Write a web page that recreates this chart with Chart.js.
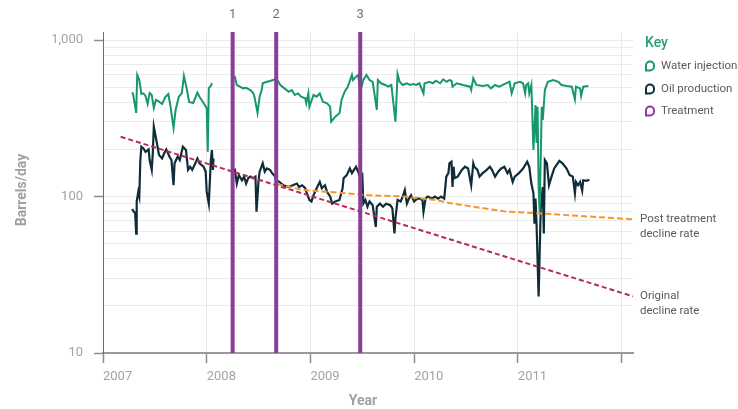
<!DOCTYPE html>
<html>
<head>
<meta charset="utf-8">
<script src="https://cdn.jsdelivr.net/npm/chart.js@4.4.0/dist/chart.umd.min.js"></script>
<style>
  html, body { margin: 0; padding: 0; background: #fff; }
  canvas { display: block; }
</style>
</head>
<body>
<canvas id="myChart" width="738" height="409"></canvas>
<script>
// Water injection (barrels/day)
const waterYears = [2007.28,2007.29,2007.32,2007.33,2007.35,2007.37,2007.39,2007.41,2007.43,2007.45,
  2007.47,2007.49,2007.51,2007.53,2007.57,2007.60,2007.63,2007.65,2007.68,2007.70,
  2007.73,2007.76,2007.78,2007.81,2007.83,2007.87,2007.91,2007.93,2007.97,2008.00,
  2008.01,2008.02,2008.04,2008.05,2008.15,
  2008.27,2008.29,2008.32,2008.35,2008.38,2008.42,2008.45,2008.46,2008.49,2008.51,
  2008.53,2008.54,2008.58,2008.61,2008.64,2008.67,2008.71,2008.75,2008.79,2008.82,
  2008.85,2008.88,2008.91,2008.95,2008.96,2008.98,2008.99,2009.03,2009.06,2009.09,
  2009.12,2009.16,2009.19,2009.20,2009.24,2009.28,2009.30,2009.33,2009.36,2009.40,
  2009.41,2009.44,2009.46,2009.48,2009.51,2009.54,2009.57,2009.60,2009.64,2009.65,
  2009.68,2009.72,2009.75,2009.78,2009.82,2009.84,2009.86,2009.89,2009.93,2009.96,
  2009.99,2010.02,2010.05,2010.09,2010.10,2010.15,2010.18,2010.21,2010.25,2010.28,
  2010.31,2010.34,2010.36,2010.37,2010.41,2010.47,2010.54,2010.55,2010.57,2010.60,
  2010.66,2010.71,2010.74,2010.78,2010.82,2010.87,2010.92,2010.94,2010.97,2011.02,
  2011.05,2011.07,2011.08,2011.10,2011.11,2011.13,2011.15,2011.17,2011.18,2011.19,
  2011.20,2011.21,2011.23,2011.24,2011.26,2011.29,2011.34,2011.39,2011.42,2011.47,
  2011.52,2011.55,2011.56,2011.60,2011.61,2011.63,2011.68];
const waterValues = [463,452,342,598,555,452,456,439,390,458,
  445,368,414,408,390,432,452,379,274,357,
  432,458,589,479,402,396,461,434,396,366,
  193,493,508,531,null,
  589,516,503,491,495,479,456,434,343,434,
  479,529,541,547,555,569,516,491,467,479,
  445,456,434,424,394,456,375,445,434,456,
  403,394,375,301,324,340,414,467,503,598,
  555,583,598,467,555,598,555,541,357,555,
  529,516,503,516,301,606,541,516,529,516,
  523,516,529,456,529,541,529,549,529,561,
  541,555,549,503,529,516,503,479,569,516,
  508,516,491,516,503,523,541,456,529,541,
  529,456,516,529,456,516,198,384,220,375,
  115,80,375,308,479,541,555,541,516,508,
  503,418,503,491,439,503,508];

// Oil production (barrels/day)
const oilYears = [2007.28,2007.31,2007.32,2007.325,2007.34,2007.35,2007.36,2007.37,2007.39,2007.41,
  2007.44,2007.45,2007.47,2007.48,2007.49,2007.52,2007.54,2007.57,2007.59,2007.61,
  2007.64,2007.66,2007.68,2007.69,2007.72,2007.74,2007.77,2007.80,2007.82,2007.84,
  2007.86,2007.89,2007.91,2007.93,2007.97,2007.99,2008.00,2008.02,2008.04,2008.05,
  2008.06,2008.065,2008.15,
  2008.27,2008.29,2008.31,2008.34,2008.36,2008.38,2008.40,2008.42,2008.45,2008.47,
  2008.48,2008.50,2008.51,2008.54,2008.56,2008.58,2008.61,2008.63,2008.66,2008.67,
  2008.70,2008.74,2008.79,2008.83,2008.87,2008.89,2008.92,2008.95,2008.96,2008.99,
  2009.01,2009.03,2009.06,2009.09,2009.11,2009.14,2009.16,2009.19,2009.21,2009.24,
  2009.28,2009.31,2009.32,2009.35,2009.38,2009.40,2009.42,2009.44,2009.46,2009.48,
  2009.50,2009.51,2009.53,2009.55,2009.57,2009.60,2009.63,2009.64,2009.67,2009.70,
  2009.73,2009.77,2009.79,2009.81,2009.82,2009.84,2009.87,2009.89,2009.91,2009.93,
  2009.95,2009.97,2010.00,2010.03,2010.05,2010.08,2010.09,2010.11,2010.13,2010.17,
  2010.20,2010.23,2010.26,2010.29,2010.31,2010.33,2010.34,2010.36,2010.37,2010.38,
  2010.39,2010.42,2010.46,2010.49,2010.52,2010.55,2010.57,2010.58,2010.61,2010.63,
  2010.66,2010.70,2010.73,2010.75,2010.78,2010.81,2010.84,2010.87,2010.90,2010.92,
  2010.95,2010.97,2011.01,2011.05,2011.09,2011.11,2011.13,2011.15,2011.16,2011.17,
  2011.18,2011.20,2011.22,2011.24,2011.25,2011.26,2011.28,2011.30,2011.32,2011.35,
  2011.40,2011.43,2011.47,2011.50,2011.53,2011.55,2011.56,2011.58,2011.60,2011.62,
  2011.63,2011.66,2011.69];
const oilValues = [83,78,58,93,107,100,171,208,203,193,
  200,171,148,189,279,219,184,175,189,200,
  180,171,118,163,180,171,208,198,148,155,
  148,163,175,163,155,144,107,90,171,198,
  148,175,null,
  151,121,137,127,134,121,131,134,131,134,
  80,127,144,163,144,151,148,141,134,127,
  124,118,115,118,121,115,118,113,107,95,
  93,102,113,124,113,118,107,100,90,93,
  95,113,131,137,151,141,148,155,144,131,
  137,90,95,86,93,88,64,86,90,86,
  90,88,84,58,73,95,93,100,110,90,
  97,102,93,97,97,95,80,97,100,97,
  100,97,100,97,134,141,163,167,115,155,
  131,134,148,155,151,118,163,155,148,134,
  141,148,155,148,134,144,151,155,141,148,
  124,134,141,151,167,155,121,105,67,97,
  67,23,82,115,58,171,163,118,131,151,
  169,163,151,137,134,105,124,118,124,109,
  127,126,128];

// Treatments
const treatmentYears = [2008.25, 2008.67, 2009.48];
const treatmentLabels = ['1', '2', '3'];

// Decline rate trends
const originalYears = [2007.17, 2012.11];
const originalValues = [241, 23];
const postYears = [2008.68, 2008.93, 2009.25, 2009.57, 2009.89, 2010.21, 2010.34, 2010.57, 2010.89, 2011.21, 2012.11];
const postValues = [120, 110, 106, 102, 100, 95, 91, 86, 80, 78, 71.5];

// Axes
const xTicks = [2007, 2008, 2009, 2010, 2011, 2012];
const xMin = 2007, xMax = 2012.11;
const yMin = 10, yMax = 1125;
const yLabelled = [10, 100, 1000];

const legendItems = ['Water injection', 'Oil production', 'Treatment'];

const GREEN = '#16986b';
const OIL = '#0e2d38';
const PURPLE = '#8a3e98';
const CRIMSON = '#b82a5e';
const ORANGE = '#f5962b';
const TICK_GREY = '#a3a3a3';
const TEXT_GREY = '#5a5a5a';

function toPoints(xs, ys) {
    return xs.map((x, i) => ({ x: x, y: ys[i] }));
}

function treatmentPoints() {
    const pts = [];
    treatmentYears.forEach(yr => {
        pts.push({ x: yr, y: yMin }, { x: yr, y: yMax }, { x: yr, y: null });
    });
    return pts;
}

// 1..9 x 10^n gets a grid line, anything else (like the top bound) does not
function isLogStep(v) {
    const p = Math.pow(10, Math.floor(Math.log10(v) + 1e-9));
    const m = v / p;
    return Math.abs(m - Math.round(m)) < 1e-6;
}

// labels, key and axis titles drawn on top
const overlayPlugin = {
    id: 'overlay',
    afterDraw(chart) {
        const { ctx, chartArea, scales } = chart;
        ctx.save();
        ctx.textBaseline = 'middle';

        // treatment numbers above the lines
        ctx.font = '13px Roboto';
        ctx.fillStyle = '#707070';
        ctx.textAlign = 'center';
        treatmentYears.forEach((yr, i) => {
            ctx.fillText(treatmentLabels[i], scales.x.getPixelForValue(yr), 15);
        });

        // axis titles
        ctx.font = 'bold 14px Roboto';
        ctx.fillStyle = '#a0a0a0';
        ctx.fillText('Year', 363, 401);
        ctx.save();
        ctx.translate(22, 190);
        ctx.rotate(-Math.PI / 2);
        ctx.fillText('Barrels/day', 0, 0);
        ctx.restore();

        // key
        const lx = chartArea.right + 12;
        ctx.textAlign = 'left';
        ctx.font = '500 14px Roboto';
        ctx.fillStyle = '#2a9b72';
        ctx.fillText('Key', lx, 43);
        const colors = [GREEN, OIL, PURPLE];
        const rows = [66, 89, 111];
        ctx.font = '11.5px Roboto';
        legendItems.forEach((label, i) => {
            ctx.beginPath();
            ctx.lineWidth = 2;
            ctx.strokeStyle = colors[i];
            ctx.roundRect(lx + 1, rows[i] - 4.5, 8, 9, [4, 4, 4, 0]);
            ctx.stroke();
            ctx.fillStyle = TEXT_GREY;
            ctx.fillText(label, lx + 16, rows[i]);
        });

        // trend line notes at the right end
        const ax = chartArea.right + 7;
        ctx.font = '11.5px Roboto';
        ctx.fillStyle = TEXT_GREY;
        const yPost = scales.y.getPixelForValue(postValues[postValues.length - 1]);
        ctx.fillText('Post treatment', ax, yPost);
        ctx.fillText('decline rate', ax, yPost + 15);
        const yOrig = scales.y.getPixelForValue(originalValues[originalValues.length - 1]);
        ctx.fillText('Original', ax, yOrig);
        ctx.fillText('decline rate', ax, yOrig + 15);
        ctx.restore();
    }
};

const ctx = document.getElementById('myChart').getContext('2d');
const myChart = new Chart(ctx, {
    type: 'line',
    data: {
        datasets: [
            {
                label: 'Treatment',
                data: treatmentPoints(),
                borderColor: PURPLE,
                borderWidth: 4,
                pointRadius: 0,
                spanGaps: false,
                order: 0
            },
            {
                label: 'Original decline rate',
                data: toPoints(originalYears, originalValues),
                borderColor: CRIMSON,
                borderWidth: 2,
                borderDash: [5, 3],
                pointRadius: 0,
                order: 1
            },
            {
                label: 'Post treatment decline rate',
                data: toPoints(postYears, postValues),
                borderColor: ORANGE,
                borderWidth: 2,
                borderDash: [6, 3],
                pointRadius: 0,
                order: 2
            },
            {
                label: 'Water injection',
                data: toPoints(waterYears, waterValues),
                borderColor: GREEN,
                borderWidth: 2,
                pointRadius: 0,
                spanGaps: false,
                order: 3
            },
            {
                label: 'Oil production',
                data: toPoints(oilYears, oilValues),
                borderColor: OIL,
                borderWidth: 2.2,
                pointRadius: 0,
                spanGaps: false,
                order: 4
            }
        ]
    },
    options: {
        responsive: false,
        animation: false,
        devicePixelRatio: 1,
        layout: { padding: { left: 0, right: 105, top: 32, bottom: 0 } },
        plugins: {
            legend: { display: false },
            tooltip: { enabled: false }
        },
        scales: {
            x: {
                type: 'linear',
                min: xMin,
                max: xMax,
                afterFit: scale => { scale.height = 56; },
                afterBuildTicks: scale => { scale.ticks = xTicks.map(v => ({ value: v })); },
                ticks: {
                    align: 'start',
                    padding: 6,
                    color: TICK_GREY,
                    font: { family: 'Roboto', size: 13 },
                    maxRotation: 0,
                    autoSkip: false,
                    callback: v => (v === 2012 ? '' : String(v))
                },
                grid: {
                    color: '#e8e8e8',
                    lineWidth: 1,
                    tickLength: 10,
                    tickColor: '#8c8c8c',
                    tickWidth: 1.5
                },
                border: { color: '#9a9a9a', width: 2 }
            },
            y: {
                type: 'logarithmic',
                min: yMin,
                max: yMax,
                afterFit: scale => { scale.width = 103; },
                ticks: {
                    autoSkip: false,
                    padding: 11,
                    color: TICK_GREY,
                    font: { family: 'Roboto', size: 13 },
                    callback: v => (yLabelled.includes(v) ? v.toLocaleString('en-US') : '')
                },
                grid: {
                    color: c => (isLogStep(c.tick.value) && c.tick.value !== yMin ? '#ebebeb' : 'rgba(0,0,0,0)'),
                    lineWidth: 1,
                    tickLength: 9,
                    tickColor: c => (yLabelled.includes(c.tick.value) ? '#8c8c8c' : 'rgba(0,0,0,0)'),
                    tickWidth: 1.5
                },
                border: { color: '#6e6e6e', width: 1 }
            }
        }
    },
    plugins: [overlayPlugin]
});
</script>
</body>
</html>
